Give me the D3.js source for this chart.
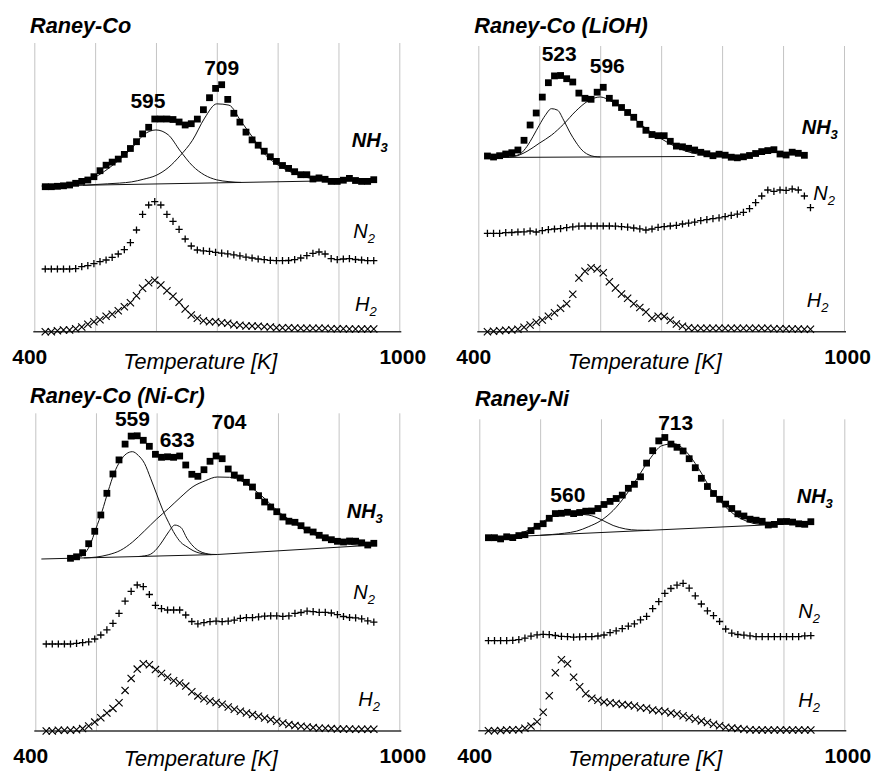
<!DOCTYPE html>
<html>
<head>
<meta charset="utf-8">
<script src="https://cdn.jsdelivr.net/npm/d3@7"></script>
<style>
  html, body { margin: 0; padding: 0; background: #fff; }
  svg { display: block; font-family: "Liberation Sans", Arial, Helvetica, sans-serif; }
</style>
</head>
<body>
<svg id="chart" width="875" height="771"></svg>
<script>
// ---- shared axis content ----
const xTicks = [400, 500, 600, 700, 800, 900, 1000];
const xEndLabels = [400, 1000];
const axisTitle = "Temperature [K]";

// ---- Raney-Co ----
const tempCo = [418,428,438,448,458,468,478,488,498,508,518,528,538,548,558,568,578,588,598,608,618,628,638,648,658,668,678,688,698,708,718,728,738,748,758,768,778,788,798,808,818,828,838,848,858,868,878,888,898,908,918,928,938,948,958];
const nh3Co = [0,0,0.4,0.9,1.7,3.4,5.3,6.7,10,16,21.5,24.6,27.6,32.3,38.2,45,52.8,59.4,67.7,67.7,67.7,67.2,64.7,61.7,63,67.6,77,89,98.3,102,87.3,73.4,64.6,54.6,46.8,41.5,35.5,29.9,25.3,21.2,18.3,15,12,12,7.7,8.8,7.4,5.3,5.3,6.5,8.3,6.2,5.3,5.3,7];
const n2Co = [0,0,0,0,0,0.3,2.3,3.3,5.3,7.3,9,11.7,15,19.3,26.3,39,54.7,64,67.3,64,54.7,47.7,39.7,30,23,19,18.2,17.7,16.7,15.8,15.2,14.2,13.2,11.8,11,10,9.3,8.7,8.3,8.3,8.5,9.3,11,13.3,15.7,17,15,10.3,9.3,10,10.3,9.5,9,8.3,8.3];
const h2Co = [0,0,1,1.7,1.7,3,4.7,7.4,10,12,15.4,17.4,21,25,29,36,43.4,49,51.4,46.7,41,35.4,29.4,22.7,16.7,13.4,11,10,10,9,8.4,7,6.4,5.7,5.7,5.4,5,4.7,4,4,4,3.7,3.4,3.4,3.4,3.4,3.4,3,3,3,2.7,2.7,2.7,2.7,2.7];
const baseCo = [[412,0.7],[963,6.7]];
const fitCo595 = [[420,0],[440,0.5],[460,1.5],[480,4],[500,8],[520,15.5],[540,25],[560,36],[580,49.5],[600,54],[620,49],[640,32.5],[660,17.5],[680,8],[700,3],[720,1],[740,0]];
const fitCo709 = [[480,0],[500,0.5],[520,1],[540,1.5],[560,2.5],[580,5],[600,8.5],[620,16],[640,28],[660,43],[680,65],[700,79],[720,77.5],[740,61],[760,44],[780,27],[800,17],[820,10],[840,5],[860,2.5],[880,1.2],[900,0.5],[920,0]];
const peaksCo = [595, 709];

// ---- Raney-Co (LiOH) ----
const tempLi = [415,425,435,445,455,465,475,485,495,505,515,525,535,545,555,565,575,585,595,605,615,625,635,645,655,665,675,685,695,705,715,725,735,745,755,765,775,785,795,805,815,825,835,845,855,865,875,885,895,905,915,925,935,945];
const nh3Li = [0,-1,0.3,2,3.3,6,15.7,31,43,58.9,73.3,80.1,80.5,77.3,74,62.9,57.7,56.7,63.8,68.7,57.7,53,48.5,43.5,38.7,31.7,25.7,21.5,20.3,20.3,14.7,9.9,9.2,7.7,6,3.7,2.2,0.3,1.8,0.8,-1.2,-1.8,-0.8,0.5,2.5,4.4,5.4,6.3,2,1,3.8,2.7,0.7];
const n2Li = [0,0,0,0.7,0.8,1.3,1.4,2.3,1.3,2.6,3.6,4.3,4.6,5.6,6.5,7.1,7.3,7.3,7.3,7.3,7.3,7.1,6.6,6.1,5.3,4.5,3.3,4.3,6,6.6,7.3,8,9.3,10.1,11.1,12.6,13.6,14.6,15.5,16.6,18,19.1,21,24.6,30.6,37.3,43.3,42,43.3,43,44.3,43.3,37.3,25.6];
const h2Li = [0,0.4,1,1.4,1.7,2.4,4.4,6.7,9.4,11.7,15.4,19,23.4,28,37.4,53.7,60.4,64,62.7,59,50,43.7,37.7,33.4,28,24.2,19.7,13.4,15.4,15.3,11.4,7.7,5.4,4,3.4,3.4,3.4,3.4,3.4,3.4,3.4,3.4,3.4,3.4,3.4,3.4,3.4,3,3,3,2.7,2.7,2.4,2.4];
const baseLi = [[413,-1.5],[755,-0.5]];
const fitLi523 = [[440,0],[450,0.5],[460,1.5],[470,4],[480,11],[490,21],[500,32],[510,42],[520,48.5],[530,47],[540,37],[550,25],[560,15],[570,7],[580,2.5],[590,0.5],[600,0]];
const fitLi596 = [[440,0],[460,1],[480,6],[500,14],[520,22],[540,33],[560,46],[580,56],[600,60],[620,55],[640,47],[660,36],[680,26],[700,18],[720,11],[740,5.5],[760,2.5],[780,1],[800,0]];
const peaksLi = [523, 596];

// ---- Raney-Co (Ni-Cr) ----
const tempNiCr = [418,428,438,448,458,468,478,488,498,508,518,528,538,548,558,568,578,588,598,608,618,628,638,648,658,668,678,688,698,708,718,728,738,748,758,768,778,788,798,808,818,828,838,848,858,868,878,888,898,908,918,928,938,948,958];
const nh3NiCr = [null,null,null,null,0.7,2.2,6.3,15.3,27.7,44,65.7,85,99.1,114.9,122.9,123.2,118.7,112.7,104.7,101.7,102.2,101.7,103,94,84.7,82.7,89.3,97.7,103,100.3,90,84,81,76.7,72,63.3,57,52,47.3,42,37.8,36.7,33.3,29,27,23.7,21.2,19.3,17.7,17,18,17.8,16.2,14,15.7];
const n2NiCr = [0,0,0,0,0,0.6,1.3,2.2,5,9,14.2,20.6,30.7,42.8,52.6,59,57.3,49.5,38.7,35.3,34,34,34,29,22.5,20.2,21.4,22.3,22.9,22.4,22.9,23.8,25.7,26.3,26.3,27.1,27.8,28.2,28.1,27.6,28.1,30.7,31.5,32.9,32.4,31.7,31.7,31,29.3,27.5,26.5,26.1,25.1,23.1,21.9];
const h2NiCr = [0,0,0.7,0.7,0.7,1.2,2.4,5,8.9,13.2,18,22.6,28.3,40.6,52.6,61.9,67.2,66.3,61.4,57.5,53.7,50.2,48,44.9,39.2,35.1,32.2,30,28.5,26.7,24,21.7,19.7,18,16.4,14.7,13,11.4,9.7,8,6.4,5.4,4.7,4,3.4,2.7,2.7,2.4,2,2,2,1.7,1.7,1.7,1.7];
const baseNiCr = [[410,0],[700,4.5],[960,14]];
const fitNiCr559 = [[460,0],[470,0.5],[480,3.5],[490,12.5],[500,29],[510,46],[520,66],[530,84],[540,96],[550,103],[560,105],[570,101],[580,93],[590,78],[600,62],[610,46],[620,33],[630,21.5],[640,13],[650,8.5],[660,4.5],[670,2],[680,0.8],[690,0]];
const fitNiCr633 = [[570,0],[580,0.5],[590,2],[600,7],[610,15],[620,24],[630,30.5],[640,28],[650,17],[660,9],[670,4],[680,1.5],[690,0.3],[700,0]];
const fitNiCr704 = [[480,0],[500,0.5],[520,2.5],[540,6.5],[560,14.5],[580,25.5],[600,37],[620,47.5],[640,58.5],[660,68.5],[680,74],[700,77.5],[720,76.5],[740,72],[760,63],[780,52],[800,39.5],[820,30],[840,21],[860,14],[880,8.5],[900,4.5],[920,2],[940,0.5],[960,0]];
const peaksNiCr = [559, 633, 704];

// ---- Raney-Ni ----
const tempNi = [415,425,435,445,455,465,475,485,495,505,515,525,535,545,555,565,575,585,595,605,615,625,635,645,655,665,675,685,695,705,715,725,735,745,755,765,775,785,795,805,815,825,835,845,855,865,875,885,895,905,915,925,935,945];
const nh3Ni = [0,0,-1.2,0.9,0.1,2.1,3,7.1,11.4,14,19.4,24.1,24.4,25.4,24.1,25.2,26.5,26.7,29.2,33.2,36.3,39.2,42.6,49.4,53.4,60.9,74.6,87,96.8,100.2,93.6,90.4,86.7,79,70,59.4,51.2,44.2,38.4,33.6,29.2,23.9,21.7,18.5,17.5,16.4,12.7,13.3,16.1,16.2,15.6,13.9,13.4,16];
const n2Ni = [0,0,0,0,0.4,1.1,2.5,4.5,5.8,6.4,6.1,5.2,4.4,4,3.6,3.9,4,4,4.7,5.7,8,9.9,12.1,14.5,16.9,20.9,24.3,32,39.1,47.3,52.2,55.6,57.3,52.6,44.9,36.7,29.8,25,19.2,11.7,7.6,6.2,5.5,4.8,4,4,4,4,4,4,4,4,4.8,5];
const h2Ni = [0,0,0.1,0.7,1,1,2.4,4.6,9,18.4,35,58,71,66.9,53.4,44,37,32.4,30.4,28.8,28,27.2,26.3,25.6,24.7,22.9,22.4,20.8,19.9,19.2,17.8,16.7,15,13,11.4,9.8,8.2,6.5,4.9,3.4,2.8,2.1,1.5,0.9,0.7,0.7,0.7,0.7,0.7,0.7,0.7,0.7,0.7,0.7];
const baseNi = [[415,0],[880,13]];
const fitNi560 = [[440,0],[460,1.5],[480,5.5],[500,12],[520,18],[540,19.5],[560,19.5],[580,18],[600,13],[620,6.5],[640,2.5],[660,0.7],[680,0]];
const fitNi713 = [[500,0],[520,0.3],[540,1],[560,2.5],[580,6.5],[600,12],[620,21.5],[640,35.5],[660,53],[680,71],[700,84],[720,85.5],[740,77],[760,60],[780,39],[800,23],[820,11.5],[840,4.5],[860,1],[880,0]];
const peaksNi = [560, 713];

// ---- panel layout ----
const panels = [
  { title: "Raney-Co", temps: tempCo, nh3: nh3Co, n2: n2Co, h2: h2Co, base: baseCo,
    fits: [fitCo595, fitCo709], peaks: peaksCo,
    box: { x0: 34.3, x1: 399.3, top: 43, axis: 331.7 },
    offs: { nh3: 145, n2: 62.7, h2: 0 },
    titlePos: [30, 33.3], axisTitleDy: 37.5,
    names: { nh3: [351.7, 146.7], n2: [353.3, 237.7], h2: [355, 310.7] },
    peakPos: [[-5, 108.3], [-0.6, 75]] },
  { title: "Raney-Co (LiOH)", temps: tempLi, nh3: nh3Li, n2: n2Li, h2: h2Li, base: baseLi,
    fits: [fitLi523, fitLi596], peaks: peaksLi,
    box: { x0: 478.3, x1: 844, top: 46, axis: 331.7 },
    offs: { nh3: 175.7, n2: 98.4, h2: 0 },
    titlePos: [474.3, 33.3], axisTitleDy: 37.5,
    names: { nh3: [801.7, 134.3], n2: [813.3, 200], h2: [806.7, 306.7] },
    peakPos: [[5.9, 61], [9.5, 73.3]] },
  { title: "Raney-Co (Ni-Cr)", temps: tempNiCr, nh3: nh3NiCr, n2: n2NiCr, h2: h2NiCr, base: baseNiCr,
    fits: [fitNiCr559, fitNiCr633, fitNiCr704], peaks: peaksNiCr,
    box: { x0: 35.3, x1: 399.3, top: 413.3, axis: 731 },
    offs: { nh3: 172, n2: 87, h2: 0 },
    titlePos: [30, 403.3], axisTitleDy: 34.5,
    names: { nh3: [346.7, 518.3], n2: [353.3, 599], h2: [358.3, 706] },
    peakPos: [[0.7, 425.5], [0.5, 447.3], [9.3, 429]] },
  { title: "Raney-Ni", temps: tempNi, nh3: nh3Ni, n2: n2Ni, h2: h2Ni, base: baseNi,
    fits: [fitNi560, fitNi713], peaks: peaksNi,
    box: { x0: 479.3, x1: 844.3, top: 419.3, axis: 730.7 },
    offs: { nh3: 193, n2: 90, h2: 0 },
    titlePos: [475, 405.7], axisTitleDy: 34.8,
    names: { nh3: [796.7, 503.3], n2: [798.3, 618.3], h2: [798.3, 706.7] },
    peakPos: [[-8.8, 502.3], [6, 430]] }
];

const svg = d3.select("#chart");

panels.forEach(p => {
  const g = svg.append("g");
  const b = p.box;
  const x = d3.scaleLinear().domain([400, 1000]).range([b.x0, b.x1]);
  const y = d3.scaleLinear().domain([0, b.axis - b.top]).range([b.axis, b.top]);

  // vertical gridlines
  const grid = g.append("g")
    .attr("transform", `translate(0,${b.axis})`)
    .call(d3.axisBottom(x).tickValues(xTicks).tickSize(-(b.axis - b.top)).tickFormat(""));
  grid.select(".domain").remove();
  grid.selectAll(".tick line").attr("stroke", "#c4c4c4").attr("stroke-width", 1);

  // x axis line
  g.append("line")
    .attr("x1", x(400) - 1).attr("x2", x(1000) + 2)
    .attr("y1", y(0)).attr("y2", y(0))
    .attr("stroke", "#333").attr("stroke-width", 1.4);

  // end tick labels
  g.selectAll("text.endlab").data(xEndLabels).join("text")
    .attr("class", "endlab")
    .attr("x", d => x(d) + (d === 400 ? -4.5 : 3.5))
    .attr("y", b.axis + 31.8)
    .attr("text-anchor", "middle")
    .attr("font-size", 21).attr("font-weight", "bold")
    .text(d => d);

  g.append("text")
    .attr("x", (b.x0 + b.x1) / 2 - 16.5)
    .attr("y", b.axis + p.axisTitleDy)
    .attr("text-anchor", "middle")
    .attr("font-size", 21.6).attr("font-style", "italic")
    .text(axisTitle);

  // panel title
  g.append("text")
    .attr("x", p.titlePos[0]).attr("y", p.titlePos[1])
    .attr("font-size", 21.7).attr("font-weight", "bold").attr("font-style", "italic")
    .text(p.title);

  // NH3 peak fitting: baseline and components
  const baseAt = d3.scaleLinear().domain(p.base.map(d => d[0])).range(p.base.map(d => d[1])).clamp(true);
  const oN = p.offs.nh3;
  g.append("path")
    .attr("d", d3.line().x(d => x(d[0])).y(d => y(oN + d[1]))(p.base))
    .attr("fill", "none").attr("stroke", "#111").attr("stroke-width", 1);
  const fitLine = d3.line()
    .x(d => x(d[0]))
    .y(d => y(oN + baseAt(d[0]) + d[1]))
    .curve(d3.curveMonotoneX);
  p.fits.forEach(f => {
    g.append("path").attr("d", fitLine(f))
      .attr("fill", "none").attr("stroke", "#111").attr("stroke-width", 1);
  });

  // peak temperature labels
  p.peaks.forEach((t, i) => {
    g.append("text")
      .attr("x", x(t) + p.peakPos[i][0]).attr("y", p.peakPos[i][1])
      .attr("text-anchor", "middle")
      .attr("font-size", 21).attr("font-weight", "bold")
      .text(t);
  });

  // NH3 squares
  const nh3Pts = p.temps.map((t, i) => [t, p.nh3[i]]).filter(d => d[1] != null);
  g.selectAll("rect.nh3").data(nh3Pts).join("rect")
    .attr("class", "nh3")
    .attr("x", d => x(d[0]) - 3.4).attr("y", d => y(oN + d[1]) - 3.4)
    .attr("width", 6.8).attr("height", 6.8)
    .attr("fill", "#000");

  // N2 plus markers
  const n2Pts = p.temps.map((t, i) => [t, p.n2[i]]).filter(d => d[1] != null);
  g.selectAll("path.n2").data(n2Pts).join("path")
    .attr("class", "n2")
    .attr("transform", d => `translate(${x(d[0])},${y(p.offs.n2 + d[1])})`)
    .attr("d", "M-3.6,0H3.6M0,-3.6V3.6")
    .attr("stroke", "#000").attr("stroke-width", 1.3).attr("fill", "none");

  // H2 cross markers
  const h2Pts = p.temps.map((t, i) => [t, p.h2[i]]).filter(d => d[1] != null);
  g.selectAll("path.h2").data(h2Pts).join("path")
    .attr("class", "h2")
    .attr("transform", d => `translate(${x(d[0])},${y(p.offs.h2 + d[1])})`)
    .attr("d", "M-3.6,-3.6L3.6,3.6M-3.6,3.6L3.6,-3.6")
    .attr("stroke", "#000").attr("stroke-width", 1.15).attr("fill", "none");

  // series names with subscripts
  const nameSpec = [
    { key: "nh3", main: "NH", sub: "3", bold: true },
    { key: "n2", main: "N", sub: "2", bold: false },
    { key: "h2", main: "H", sub: "2", bold: false }
  ];
  nameSpec.forEach(s => {
    const pos = p.names[s.key];
    const t = g.append("text")
      .attr("x", pos[0]).attr("y", pos[1])
      .attr("font-size", 20).attr("font-style", "italic")
      .attr("font-weight", s.bold ? "bold" : "normal");
    t.append("tspan").text(s.main);
    t.append("tspan").attr("dy", 5).attr("font-size", 13).text(s.sub);
  });
});
</script>
</body>
</html>
